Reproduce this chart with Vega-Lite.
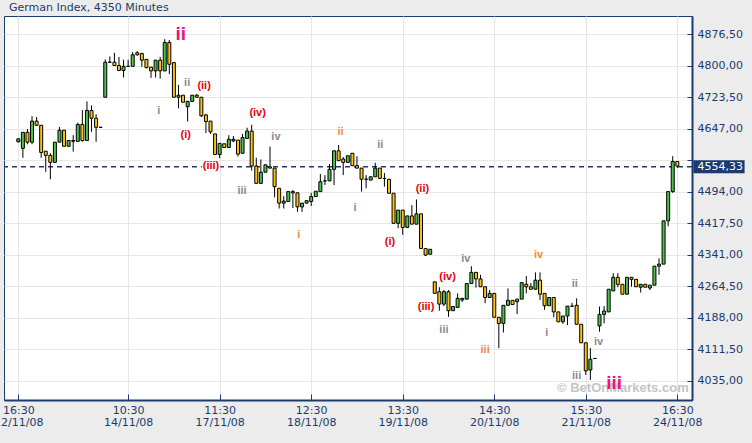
{
"$schema": "https://vega.github.io/schema/vega-lite/v6.json",
"width": 688, "height": 384,
"autosize": {"type": "none"},
"padding": {"left": 4, "top": 16, "right": 60, "bottom": 43},
"background": "#ececec",
"title": {"text": "German Index, 4350 Minutes", "anchor": "start", "frame": "group", "offset": -6, "dx": 5, "fontSize": 11, "font": "DejaVu Sans", "fontWeight": "normal", "color": "#1b3b6f", "baseline": "alphabetic"},
"config": {"view": {"stroke": "#1b3b6f", "strokeWidth": 1, "fill": "#ffffff"}},
"datasets": {
"candles": [
{"i":0,"o":4615,"h":4623,"l":4613,"c":4622},{"i":1,"o":4599,"h":4638,"l":4576,"c":4638},{"i":2,"o":4638,"h":4646,"l":4609,"c":4614},{"i":3,"o":4614,"h":4677,"l":4609,"c":4665},{"i":4,"o":4665,"h":4675,"l":4653,"c":4655},{"i":5,"o":4655,"h":4655,"l":4576,"c":4589},{"i":6,"o":4592,"h":4592,"l":4542,"c":4582},{"i":7,"o":4582,"h":4587,"l":4524,"c":4565},{"i":8,"o":4565,"h":4614,"l":4565,"c":4614},{"i":9,"o":4614,"h":4651,"l":4614,"c":4643},
{"i":10,"o":4643,"h":4643,"l":4604,"c":4604},{"i":11,"o":4604,"h":4618,"l":4604,"c":4618},{"i":12,"o":4618,"h":4631,"l":4591,"c":4616},{"i":13,"o":4616,"h":4661,"l":4616,"c":4657},{"i":14,"o":4657,"h":4692,"l":4615,"c":4618},{"i":15,"o":4618,"h":4713,"l":4618,"c":4691},{"i":16,"o":4691,"h":4703,"l":4639,"c":4672},{"i":17,"o":4672,"h":4682,"l":4615,"c":4650},{"i":18,"o":4650,"h":4650,"l":4650,"c":4650},{"i":19,"o":4723,"h":4815,"l":4723,"c":4808},
{"i":20,"o":4808,"h":4822,"l":4808,"c":4808},{"i":21,"o":4808,"h":4831,"l":4800,"c":4800},{"i":22,"o":4800,"h":4821,"l":4788,"c":4788},{"i":23,"o":4788,"h":4814,"l":4771,"c":4798},{"i":24,"o":4798,"h":4814,"l":4798,"c":4798},{"i":25,"o":4798,"h":4833,"l":4798,"c":4826},{"i":26,"o":4831,"h":4835,"l":4824,"c":4826},{"i":27,"o":4829,"h":4831,"l":4797,"c":4813},{"i":28,"o":4815,"h":4815,"l":4793,"c":4795},{"i":29,"o":4796,"h":4796,"l":4770,"c":4787},
{"i":30,"o":4787,"h":4813,"l":4771,"c":4813},{"i":31,"o":4813,"h":4821,"l":4768,"c":4787},{"i":32,"o":4787,"h":4864,"l":4787,"c":4856},{"i":33,"o":4856,"h":4862,"l":4779,"c":4803},{"i":34,"o":4807,"h":4807,"l":4723,"c":4723},{"i":35,"o":4723,"h":4753,"l":4696,"c":4728},{"i":36,"o":4728,"h":4728,"l":4711,"c":4711},{"i":37,"o":4700,"h":4713,"l":4664,"c":4713},{"i":38,"o":4713,"h":4728,"l":4713,"c":4728},{"i":39,"o":4728,"h":4731,"l":4721,"c":4723},
{"i":40,"o":4723,"h":4723,"l":4675,"c":4678},{"i":41,"o":4680,"h":4683,"l":4636,"c":4664},{"i":42,"o":4665,"h":4665,"l":4634,"c":4639},{"i":43,"o":4634,"h":4634,"l":4584,"c":4584},{"i":44,"o":4584,"h":4611,"l":4575,"c":4611},{"i":45,"o":4610,"h":4610,"l":4601,"c":4601},{"i":46,"o":4601,"h":4631,"l":4601,"c":4621},{"i":47,"o":4617,"h":4629,"l":4614,"c":4621},{"i":48,"o":4619,"h":4619,"l":4579,"c":4585},{"i":49,"o":4587,"h":4634,"l":4587,"c":4625},
{"i":50,"o":4623,"h":4649,"l":4623,"c":4641},{"i":51,"o":4641,"h":4656,"l":4545,"c":4556},{"i":52,"o":4556,"h":4576,"l":4514,"c":4514},{"i":53,"o":4514,"h":4572,"l":4514,"c":4541},{"i":54,"o":4541,"h":4559,"l":4541,"c":4559},{"i":55,"o":4554,"h":4603,"l":4551,"c":4551},{"i":56,"o":4551,"h":4551,"l":4480,"c":4506},{"i":57,"o":4502,"h":4502,"l":4453,"c":4466},{"i":58,"o":4466,"h":4483,"l":4453,"c":4471},{"i":59,"o":4470,"h":4494,"l":4470,"c":4494},
{"i":60,"o":4494,"h":4498,"l":4454,"c":4491},{"i":61,"o":4491,"h":4491,"l":4445,"c":4457},{"i":62,"o":4457,"h":4466,"l":4445,"c":4466},{"i":63,"o":4466,"h":4472,"l":4466,"c":4472},{"i":64,"o":4470,"h":4491,"l":4459,"c":4482},{"i":65,"o":4482,"h":4495,"l":4482,"c":4495},{"i":66,"o":4494,"h":4537,"l":4494,"c":4518},{"i":67,"o":4520,"h":4534,"l":4510,"c":4520},{"i":68,"o":4520,"h":4561,"l":4520,"c":4548},{"i":69,"o":4548,"h":4593,"l":4510,"c":4593},
{"i":70,"o":4593,"h":4607,"l":4569,"c":4569},{"i":71,"o":4573,"h":4578,"l":4534,"c":4565},{"i":72,"o":4565,"h":4581,"l":4565,"c":4581},{"i":73,"o":4587,"h":4587,"l":4557,"c":4557},{"i":74,"o":4557,"h":4580,"l":4551,"c":4551},{"i":75,"o":4551,"h":4551,"l":4494,"c":4524},{"i":76,"o":4524,"h":4534,"l":4502,"c":4524},{"i":77,"o":4522,"h":4530,"l":4522,"c":4530},{"i":78,"o":4530,"h":4564,"l":4530,"c":4551},{"i":79,"o":4551,"h":4551,"l":4526,"c":4526},
{"i":80,"o":4526,"h":4539,"l":4506,"c":4526},{"i":81,"o":4524,"h":4524,"l":4490,"c":4490},{"i":82,"o":4490,"h":4490,"l":4417,"c":4417},{"i":83,"o":4417,"h":4449,"l":4405,"c":4449},{"i":84,"o":4449,"h":4449,"l":4389,"c":4407},{"i":85,"o":4407,"h":4435,"l":4407,"c":4435},{"i":86,"o":4435,"h":4461,"l":4415,"c":4415},{"i":87,"o":4415,"h":4475,"l":4415,"c":4440},{"i":88,"o":4440,"h":4440,"l":4356,"c":4356},{"i":89,"o":4356,"h":4356,"l":4338,"c":4340},
{"i":90,"o":4342,"h":4354,"l":4342,"c":4354},{"i":91,"o":4275,"h":4275,"l":4247,"c":4247},{"i":92,"o":4251,"h":4262,"l":4205,"c":4221},{"i":93,"o":4221,"h":4255,"l":4216,"c":4251},{"i":94,"o":4251,"h":4255,"l":4190,"c":4205},{"i":95,"o":4205,"h":4215,"l":4205,"c":4215},{"i":96,"o":4213,"h":4247,"l":4213,"c":4235},{"i":97,"o":4231,"h":4235,"l":4226,"c":4235},{"i":98,"o":4233,"h":4271,"l":4233,"c":4271},{"i":99,"o":4271,"h":4313,"l":4271,"c":4298},
{"i":100,"o":4298,"h":4298,"l":4261,"c":4282},{"i":101,"o":4282,"h":4292,"l":4263,"c":4263},{"i":102,"o":4263,"h":4263,"l":4223,"c":4237},{"i":103,"o":4237,"h":4255,"l":4237,"c":4247},{"i":104,"o":4247,"h":4247,"l":4189,"c":4189},{"i":105,"o":4189,"h":4189,"l":4114,"c":4174},{"i":106,"o":4174,"h":4218,"l":4152,"c":4218},{"i":107,"o":4218,"h":4259,"l":4218,"c":4230},{"i":108,"o":4230,"h":4230,"l":4220,"c":4220},{"i":109,"o":4227,"h":4233,"l":4197,"c":4233},
{"i":110,"o":4233,"h":4273,"l":4233,"c":4273},{"i":111,"o":4269,"h":4289,"l":4247,"c":4263},{"i":112,"o":4263,"h":4272,"l":4257,"c":4257},{"i":113,"o":4257,"h":4298,"l":4257,"c":4279},{"i":114,"o":4279,"h":4298,"l":4231,"c":4245},{"i":115,"o":4247,"h":4247,"l":4207,"c":4217},{"i":116,"o":4217,"h":4237,"l":4217,"c":4237},{"i":117,"o":4237,"h":4237,"l":4189,"c":4202},{"i":118,"o":4202,"h":4202,"l":4178,"c":4178},{"i":119,"o":4178,"h":4192,"l":4173,"c":4192},
{"i":120,"o":4192,"h":4216,"l":4170,"c":4216},{"i":121,"o":4216,"h":4224,"l":4216,"c":4216},{"i":122,"o":4218,"h":4235,"l":4172,"c":4172},{"i":123,"o":4172,"h":4172,"l":4127,"c":4127},{"i":124,"o":4127,"h":4127,"l":4049,"c":4059},{"i":125,"o":4061,"h":4114,"l":4037,"c":4087},{"i":126,"o":4089,"h":4090,"l":4088,"c":4089},{"i":127,"o":4168,"h":4215,"l":4154,"c":4196},{"i":128,"o":4196,"h":4216,"l":4174,"c":4204},{"i":129,"o":4202,"h":4257,"l":4202,"c":4257},
{"i":130,"o":4253,"h":4296,"l":4253,"c":4286},{"i":131,"o":4286,"h":4296,"l":4262,"c":4269},{"i":132,"o":4269,"h":4269,"l":4245,"c":4245},{"i":133,"o":4245,"h":4286,"l":4245,"c":4286},{"i":134,"o":4286,"h":4286,"l":4263,"c":4281},{"i":135,"o":4281,"h":4281,"l":4263,"c":4263},{"i":136,"o":4262,"h":4269,"l":4249,"c":4269},{"i":137,"o":4269,"h":4269,"l":4262,"c":4262},{"i":138,"o":4260,"h":4267,"l":4255,"c":4267},{"i":139,"o":4267,"h":4313,"l":4267,"c":4313},
{"i":140,"o":4313,"h":4332,"l":4292,"c":4318},{"i":141,"o":4318,"h":4423,"l":4318,"c":4423},{"i":142,"o":4423,"h":4494,"l":4410,"c":4494},{"i":143,"o":4494,"h":4580,"l":4491,"c":4567},{"i":144,"o":4567,"h":4567,"l":4551,"c":4556}
],
"labels": [
{"i":35.5,"v":4876,"t":"ii","d":"minor"},{"i":130.2,"v":4029,"t":"iii","d":"minor"},
{"i":30.7,"v":4690,"t":"i","d":"subminuette"},{"i":36.9,"v":4758,"t":"ii","d":"subminuette"},{"i":48.9,"v":4496,"t":"iii","d":"subminuette"},{"i":56.3,"v":4626,"t":"iv","d":"subminuette"},{"i":79.1,"v":4607,"t":"ii","d":"subminuette"},{"i":73.6,"v":4455,"t":"i","d":"subminuette"},{"i":97.8,"v":4330,"t":"iv","d":"subminuette"},{"i":93.0,"v":4158,"t":"iii","d":"subminuette"},{"i":121.6,"v":4269,"t":"ii","d":"subminuette"},{"i":115.5,"v":4150,"t":"i","d":"subminuette"},{"i":126.8,"v":4130,"t":"iv","d":"subminuette"},{"i":122.0,"v":4047,"t":"iii","d":"subminuette"},
{"i":40.6,"v":4751,"t":"(ii)","d":"minuette"},{"i":36.6,"v":4631,"t":"(i)","d":"minuette"},{"i":42.1,"v":4557,"t":"(iii)","d":"minuette"},{"i":52.3,"v":4684,"t":"(iv)","d":"minuette"},{"i":88.3,"v":4501,"t":"(ii)","d":"minuette"},{"i":81.2,"v":4372,"t":"(i)","d":"minuette"},{"i":93.8,"v":4287,"t":"(iv)","d":"minuette"},{"i":89.1,"v":4213,"t":"(iii)","d":"minuette"},
{"i":70.4,"v":4638,"t":"ii","d":"minute"},{"i":61.3,"v":4389,"t":"i","d":"minute"},{"i":102.0,"v":4109,"t":"iii","d":"minute"},{"i":113.7,"v":4339,"t":"iv","d":"minute"}
],
"marks": [{"name": "current"}]
},
"layer": [
{"data": {"name": "marks"},
 "mark": {"type": "text", "text": "© BetOnMarkets.com", "color": "#c4c4c4", "font": "Liberation Sans", "fontWeight": "bold", "fontSize": 13, "align": "center", "baseline": "middle"},
 "encoding": {"x": {"datum": 132.1, "type": "quantitative", "scale": {"domain": [-3.125, 147.21], "nice": false, "zero": false, "padding": 0}, "title": null},
              "y": {"datum": 4017, "type": "quantitative", "scale": {"domain": [3988.2, 4920.2], "nice": false, "zero": false}, "title": null}}},
{"data": {"name": "marks"},
 "mark": {"type": "rule", "color": "#1b3b6f", "strokeDash": [5, 4], "strokeWidth": 1.5},
 "encoding": {"y": {"datum": 4554.33, "type": "quantitative", "scale": {"domain": [3988.2, 4920.2], "nice": false, "zero": false}, "title": null}}},
{"data": {"name": "candles"},
 "mark": {"type": "rule", "color": "#000000", "strokeWidth": 1},
 "encoding": {
  "x": {"field": "i", "type": "quantitative", "scale": {"domain": [-3.125, 147.21], "nice": false, "zero": false, "padding": 0}, "title": null,
        "axis": {"values": [0, 24, 44, 64, 84, 104, 124, 144], "tickCount": 20,
                 "labelExpr": "datum.value==0?['16:30','12/11/08']:datum.value==24?['10:30','14/11/08']:datum.value==44?['11:30','17/11/08']:datum.value==64?['12:30','18/11/08']:datum.value==84?['13:30','19/11/08']:datum.value==104?['14:30','20/11/08']:datum.value==124?['15:30','21/11/08']:['16:30','24/11/08']",
                 "labelFlush": false, "labelOverlap": false, "labelBound": false,
                 "labelFont": "DejaVu Sans", "labelFontSize": 11, "labelColor": "#1b3b6f", "labelLineHeight": 12, "labelPadding": 10,
                 "domainColor": "#1b3b6f", "domainWidth": 2, "tickColor": "#1b3b6f", "tickSize": -6, "tickWidth": 1,
                 "grid": true, "gridColor": "#e6e6e6", "gridWidth": 1}},
  "y": {"field": "l", "type": "quantitative", "scale": {"domain": [3988.2, 4920.2], "nice": false, "zero": false}, "title": null,
        "axis": {"orient": "right", "values": [4035, 4111.5, 4188, 4264.5, 4341, 4417.5, 4494, 4570.5, 4647, 4723.5, 4800, 4876.5], "tickCount": 20,
                 "labelExpr": "datum.value==4570.5?'':replace(format(datum.value,'.2f'),'.',',')",
                 "labelOverlap": false, "labelBound": false, "labelFlush": false,
                 "labelFont": "DejaVu Sans", "labelFontSize": 11, "labelColor": "#1b3b6f", "labelPadding": 10, "labelBaseline": "middle",
                 "domainColor": "#1b3b6f", "domainWidth": 2, "tickColor": "#1b3b6f", "tickSize": -5, "tickWidth": 1,
                 "grid": true, "gridColor": "#e6e6e6", "gridWidth": 1}},
  "y2": {"field": "h"}}},
{"data": {"name": "candles"},
 "mark": {"type": "bar", "size": 3, "stroke": "#000000", "strokeWidth": 1},
 "encoding": {
  "x": {"field": "i", "type": "quantitative", "scale": {"domain": [-3.125, 147.21], "nice": false, "zero": false, "padding": 0}, "title": null},
  "y": {"field": "o", "type": "quantitative", "scale": {"domain": [3988.2, 4920.2], "nice": false, "zero": false}, "title": null},
  "y2": {"field": "c"},
  "fill": {"condition": {"test": "datum.c > datum.o", "value": "#4cc24c"}, "value": "#ffc20e"}}},
{"data": {"name": "labels"},
 "transform": [{"filter": "datum.d == 'minuette'"}],
 "mark": {"type": "text", "font": "Liberation Sans", "fontWeight": "bold", "fontSize": 11, "align": "center", "baseline": "middle", "stroke": "#ffffff", "strokeWidth": 3, "fill": "#ffffff", "strokeOpacity": 0.9},
 "encoding": {
  "x": {"field": "i", "type": "quantitative", "scale": {"domain": [-3.125, 147.21], "nice": false, "zero": false, "padding": 0}, "title": null},
  "y": {"field": "v", "type": "quantitative", "scale": {"domain": [3988.2, 4920.2], "nice": false, "zero": false}, "title": null},
  "text": {"field": "t"}}},
{"data": {"name": "labels"},
 "transform": [{"filter": "datum.d != 'minor'"}],
 "mark": {"type": "text", "font": "Liberation Sans", "fontWeight": "bold", "fontSize": 11, "align": "center", "baseline": "middle"},
 "encoding": {
  "x": {"field": "i", "type": "quantitative", "scale": {"domain": [-3.125, 147.21], "nice": false, "zero": false, "padding": 0}, "title": null},
  "y": {"field": "v", "type": "quantitative", "scale": {"domain": [3988.2, 4920.2], "nice": false, "zero": false}, "title": null},
  "text": {"field": "t"},
  "color": {"field": "d", "type": "nominal", "scale": {"domain": ["subminuette", "minuette", "minute"], "range": ["#8a8a8a", "#e8000b", "#f7883d"]}, "legend": null}}},
{"data": {"name": "labels"},
 "transform": [{"filter": "datum.d == 'minor'"}],
 "mark": {"type": "text", "font": "Liberation Sans", "fontWeight": "bold", "fontSize": 19, "align": "center", "baseline": "middle", "color": "#e6177f"},
 "encoding": {
  "x": {"field": "i", "type": "quantitative", "scale": {"domain": [-3.125, 147.21], "nice": false, "zero": false, "padding": 0}, "title": null},
  "y": {"field": "v", "type": "quantitative", "scale": {"domain": [3988.2, 4920.2], "nice": false, "zero": false}, "title": null},
  "text": {"field": "t"}}},
{"data": {"name": "marks"},
 "mark": {"type": "rect", "color": "#1b3b6f"},
 "encoding": {"x": {"datum": 147.5, "type": "quantitative", "scale": {"domain": [-3.125, 147.21], "nice": false, "zero": false, "padding": 0}, "title": null},
              "x2": {"datum": 158.7},
              "y": {"datum": 4570, "type": "quantitative", "scale": {"domain": [3988.2, 4920.2], "nice": false, "zero": false}, "title": null},
              "y2": {"datum": 4538.5}}},
{"data": {"name": "marks"},
 "mark": {"type": "text", "text": "4554,33", "color": "#ffffff", "font": "DejaVu Sans", "fontSize": 11, "align": "left", "baseline": "middle"},
 "encoding": {"x": {"datum": 148.4, "type": "quantitative", "scale": {"domain": [-3.125, 147.21], "nice": false, "zero": false, "padding": 0}, "title": null},
              "y": {"datum": 4554.33, "type": "quantitative", "scale": {"domain": [3988.2, 4920.2], "nice": false, "zero": false}, "title": null}}}
]
}
